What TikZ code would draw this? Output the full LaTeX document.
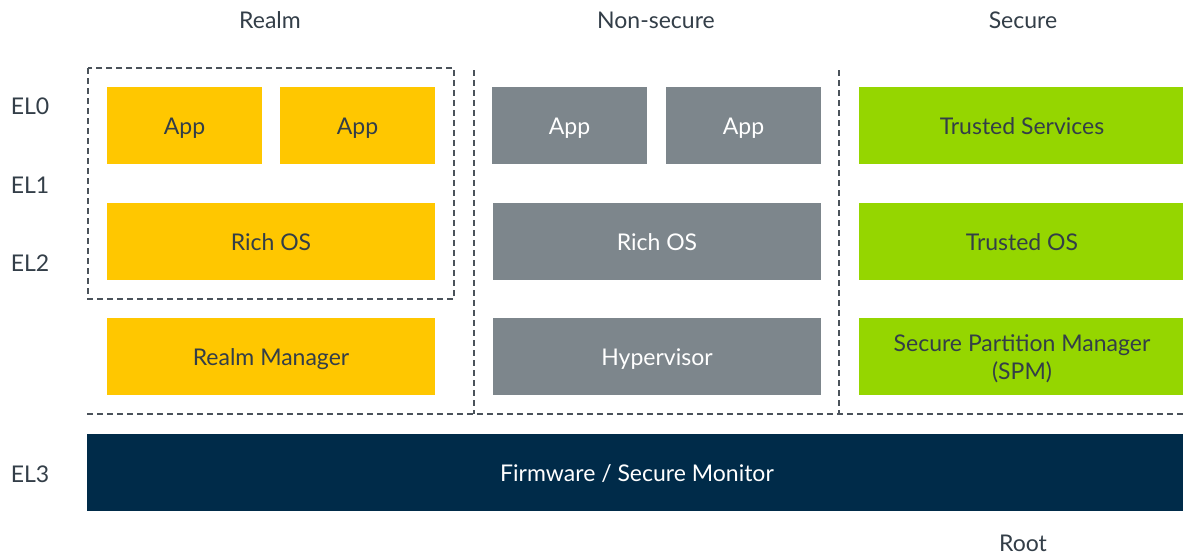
\documentclass[tikz,border=0pt]{standalone}
\usepackage{fontspec}
\setmainfont{Lato}
\definecolor{armyellow}{HTML}{FFC700}
\definecolor{armgray}{HTML}{7D868C}
\definecolor{armgreen}{HTML}{95D600}
\definecolor{armnavy}{HTML}{002B49}
\definecolor{armtext}{HTML}{333E48}
\definecolor{dashcol}{HTML}{4A525A}
\begin{document}
\begin{tikzpicture}[x=1pt,y=-1pt,
  blk/.style={draw=none,inner sep=0pt,font=\fontsize{23}{28}\selectfont,align=center,text height=23pt,text depth=6pt},
  yel/.style={blk,fill=armyellow,text=armtext},
  gry/.style={blk,fill=armgray,text=white},
  grn/.style={blk,fill=armgreen,text=armtext},
  lbl/.style={text=armtext,font=\fontsize{23}{25}\selectfont,inner sep=0pt},
  dsh/.style={draw=dashcol,line width=1.2pt,dash pattern=on 6pt off 4pt}]
\useasboundingbox (0,0) rectangle (1183,554);
\fill[white] (0,0) rectangle (1183,554);
% Realm
\node[yel,minimum width=155,minimum height=77] (ra1) at (184.5,125.5) {App};
\node[yel,minimum width=155,minimum height=77] (ra2) at (357.5,125.5) {App};
\node[yel,minimum width=328,minimum height=77] (ros) at (271,241.5) {Rich OS};
\node[yel,minimum width=328,minimum height=77] (rm) at (271,356.5) {Realm Manager};
% Non-secure
\node[gry,minimum width=155,minimum height=77] (na1) at (569.5,125.5) {App};
\node[gry,minimum width=155,minimum height=77] (na2) at (743.5,125.5) {App};
\node[gry,minimum width=328,minimum height=77] (nos) at (657,241.5) {Rich OS};
\node[gry,minimum width=328,minimum height=77] (hyp) at (657,356.5) {Hypervisor};
% Secure
\node[grn,minimum width=326,minimum height=77] (ts) at (1022,125.5) {Trusted Services};
\node[grn,minimum width=326,minimum height=77] (tos) at (1022,241.5) {Trusted OS};
\node[grn,minimum width=326,minimum height=77,text height=50pt,text depth=5pt] (spm) at (1022,356.5) {Secure Partition Manager\\(SPM)};
% Firmware
\node[blk,fill=armnavy,text=white,minimum width=1100,minimum height=77] (fw) at (637,472.5) {Firmware / Secure Monitor};
% dashed lines
\draw[dsh] (88,68) rectangle (454,299);
\coordinate (v1t) at (474,70); \coordinate (v1b) at (474,414);
\coordinate (v2t) at (839,70); \coordinate (v2b) at (839,414);
\coordinate (hl) at (87,414); \coordinate (hr) at (1183,414);
\draw[dsh] (v1t) -- (v1b);
\draw[dsh] (v2t) -- (v2b);
\draw[dsh] (hl) -- (hr);
% labels
\node[lbl] (lrealm) at (270,20) {Realm};
\node[lbl] (lns) at (656,20) {Non-secure};
\node[lbl] (lsec) at (1023,20) {Secure};
\node[lbl] (el0) at (30,106) {EL0};
\node[lbl] (el1) at (30,185) {EL1};
\node[lbl] (el2) at (30,263) {EL2};
\node[lbl] (el3) at (30,474) {EL3};
\node[lbl] (root) at (1023,543) {Root};
\end{tikzpicture}
\end{document}
